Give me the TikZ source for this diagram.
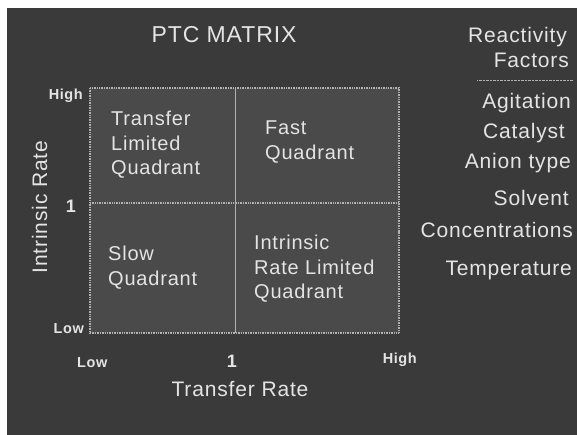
\documentclass[tikz,border=0pt]{standalone}
\usepackage{fontspec}
\setmainfont[LetterSpace=4]{Liberation Sans}
\usetikzlibrary{positioning}
\definecolor{board}{RGB}{58,58,58}
\definecolor{cell}{RGB}{74,74,74}
\definecolor{ink}{RGB}{228,228,228}
\definecolor{rule}{RGB}{178,178,178}

\begin{document}
\begin{tikzpicture}[
  x=1pt,y=-1pt,
  text=ink,inner sep=0pt,
  big/.style={font=\fontsize{21}{25}\selectfont},
  quad/.style={anchor=north west,align=left,font=\fontsize{20}{24.5}\selectfont},
  tick/.style={font=\bfseries\fontsize{14.5}{16}\selectfont},
  factor/.style={big,anchor=base east},
]
% page and board
\useasboundingbox (0,0) rectangle (577,435);
\fill[white] (0,0) rectangle (577,435);
\fill[board] (7,8) rectangle (577,435);

% the matrix
\coordinate (nw) at (90,88);
\coordinate (se) at (399,333);
\coordinate (mid) at (235.5,203);
\fill[cell] (nw) rectangle (se);
\draw[rule,line width=1.3pt,dash pattern=on 1pt off 0.7pt] (nw) rectangle (se);
\draw[rule,line width=1.5pt] (mid |- nw) -- (mid |- se);
\draw[rule,line width=1.3pt,dash pattern=on 1pt off 0.7pt] (nw |- mid) -- (se |- mid);

\node[anchor=base,font=\fontsize{23}{27}\selectfont] (title) at (224,43) {PTC MATRIX};

% quadrants
\node[quad] (tlq) at (111,111) {Transfer\\Limited\\Quadrant};
\node[quad] (fq) at (265,121) {Fast\\Quadrant};
\node[quad] (sq) at (108,246) {Slow\\Quadrant};
\node[quad] (irq) at (254,235) {Intrinsic\\Rate Limited\\Quadrant};

% axes
\node[tick,anchor=base east] (yhigh) at (83,100) {High};
\node[tick,anchor=base east,font=\bfseries\fontsize{18}{20}\selectfont] (yone) at (76,213) {1};
\node[tick,anchor=base east] (ylow) at (84,333) {Low};
\node[big,anchor=base,rotate=90] (ylab) at (47,207) {Intrinsic Rate};
\node[tick,anchor=base west] (xlow) at (77,367) {Low};
\node[tick,anchor=base,font=\bfseries\fontsize{18}{20}\selectfont] (xone) at (232,367) {1};
\node[tick,anchor=base east] (xhigh) at (417,363) {High};
\node[big,anchor=base] (xlab) at (240,396) {Transfer Rate};

% reactivity factors
\node[factor] (rf1) at (567,43) {Reactivity};
\node[factor] (rf2) at (569,68) {Factors};
\draw[rule,line width=0.8pt,dash pattern=on 0.6pt off 0.8pt] (rf2.east |- 0,80) ++(4,0) coordinate (sepr) -- (477,80) coordinate (sepl);
\node[factor] (agi) at (571,109) {Agitation};
\node[factor] (cat) at (565,139) {Catalyst};
\node[factor] (ani) at (571,169) {Anion type};
\node[factor] (sol) at (569,206) {Solvent};
\node[factor] (con) at (573,238) {Concentrations};
\node[factor] (tem) at (572,275) {Temperature};
\end{tikzpicture}
\end{document}
